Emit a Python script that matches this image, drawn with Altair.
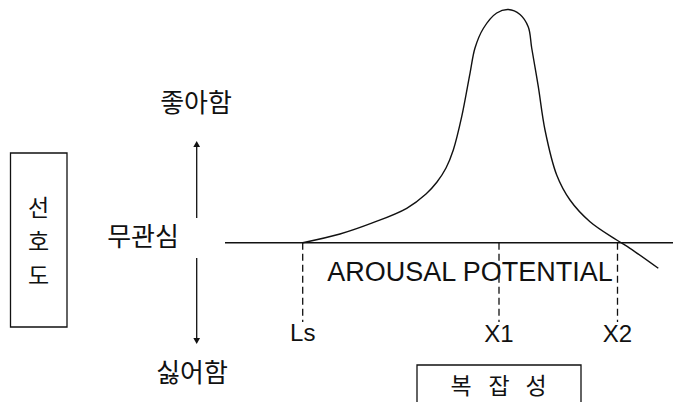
import altair as alt
import pandas as pd

# ---- data (reference pixel space: x right, y down) ----
curve_x = [302.7, 340, 373, 406.7, 426, 437, 446, 453.3, 461.7, 470, 475, 483.3, 496.7,
           508.3, 520, 528.3, 531.7, 538.3, 545, 556.7, 570, 590, 616.7, 630, 658.3]
curve_y = [242.7, 234, 222.7, 208.3, 194, 182, 168, 150, 116.7, 73.3, 48, 28.5, 13,
           9.5, 14.5, 27, 48, 86.7, 130, 175, 200, 221.7, 240, 248.3, 268.3]

base_x = [225, 680]
base_y = [242.7, 242.7]

mark_names = ["Ls", "X1", "X2"]
mark_x = [302.7, 499, 617.5]
mark_top = [242.7, 242.7, 242.7]
mark_bottom = [322, 322, 322]
mark_label_y = [334, 335, 335]

axis_x = [196.7, 196.7]
axis_seg_top = [145, 258]
axis_seg_bottom = [218, 340]
arrow_y = [144, 341]
arrow_shape = ["triangle-up", "triangle-down"]

pref_words = ["좋아함", "무관심", "싫어함"]
pref_x = [196, 143, 192]
pref_y = [104, 237.5, 374]

side_chars = ["선", "호", "도"]
side_x = [38.5, 38.5, 38.5]
side_y = [209, 243, 277]
side_box = [10.5, 67, 153, 327]  # x1, x2, y1, y2

cx_chars = ["복", "잡", "성"]
cx_x = [461, 499, 536]
cx_y = [386.5, 386.5, 386.5]
cx_box = [417, 581, 365, 402]

arousal_text = ["AROUSAL POTENTIAL"]
arousal_x = [470]
arousal_y = [272.5]

INK = "#111111"
W, H = 665, 394
xs = alt.Scale(domain=[8, 8 + W], nice=False, zero=False)
ys = alt.Scale(domain=[8, 8 + H], nice=False, zero=False, reverse=True)
X = lambda f: alt.X(f, type="quantitative", scale=xs, axis=None)
Y = lambda f: alt.Y(f, type="quantitative", scale=ys, axis=None)

curve_df = pd.DataFrame({"x": curve_x, "y": curve_y, "o": range(len(curve_x))})
curve = alt.Chart(curve_df).mark_line(color=INK, strokeWidth=1.4, interpolate="catmull-rom").encode(
    x=X("x"), y=Y("y"), order="o:Q")

base_df = pd.DataFrame({"x": base_x, "y": base_y})
base = alt.Chart(base_df).mark_line(color=INK, strokeWidth=1.5).encode(x=X("x"), y=Y("y"))

m_df = pd.DataFrame({"name": mark_names, "x": mark_x, "y1": mark_top, "y2": mark_bottom,
                     "ly": mark_label_y})
dashes = alt.Chart(m_df).mark_rule(color=INK, strokeWidth=1.3, strokeDash=[7, 4]).encode(
    x=X("x"), y=Y("y1"), y2="y2")
mlabels = alt.Chart(m_df).mark_text(font="Liberation Sans", fontSize=24, color=INK,
                                    baseline="middle", align="center").encode(
    x=X("x"), y=Y("ly"), text="name")

ax_df = pd.DataFrame({"x": axis_x, "y1": axis_seg_top, "y2": axis_seg_bottom})
ax_lines = alt.Chart(ax_df).mark_rule(color=INK, strokeWidth=1.3).encode(
    x=X("x"), y=Y("y1"), y2="y2")
arr_df = pd.DataFrame({"x": axis_x, "y": arrow_y, "shape": arrow_shape})
arrows = alt.Chart(arr_df).mark_point(filled=True, color=INK, size=45, opacity=1).encode(
    x=X("x"), y=Y("y"), shape=alt.Shape("shape:N", scale=None, legend=None))

p_df = pd.DataFrame({"t": pref_words, "x": pref_x, "y": pref_y})
pref = alt.Chart(p_df).mark_text(font="Noto Sans CJK KR", fontSize=26, color=INK,
                                 baseline="middle", align="center").encode(
    x=X("x"), y=Y("y"), text="t")

s_df = pd.DataFrame({"t": side_chars, "x": side_x, "y": side_y})
side = alt.Chart(s_df).mark_text(font="Noto Sans CJK KR", fontSize=23, color=INK,
                                 baseline="middle", align="center").encode(
    x=X("x"), y=Y("y"), text="t")
sb_df = pd.DataFrame({"x": [side_box[0]], "x2": [side_box[1]], "y": [side_box[2]], "y2": [side_box[3]]})
side_rect = alt.Chart(sb_df).mark_rect(fill="white", fillOpacity=0, stroke=INK, strokeWidth=1.3).encode(
    x=X("x"), x2="x2", y=Y("y"), y2="y2")

c_df = pd.DataFrame({"t": cx_chars, "x": cx_x, "y": cx_y})
cx = alt.Chart(c_df).mark_text(font="Noto Sans CJK KR", fontSize=23, color=INK,
                               baseline="middle", align="center").encode(
    x=X("x"), y=Y("y"), text="t")
cb_df = pd.DataFrame({"x": [cx_box[0]], "x2": [cx_box[1]], "y": [cx_box[2]], "y2": [cx_box[3] + 20]})
cx_rect = alt.Chart(cb_df).mark_rect(fill="white", fillOpacity=0, stroke=INK, strokeWidth=1.3,
                                     clip=True).encode(
    x=X("x"), x2="x2", y=Y("y"), y2="y2")

a_df = pd.DataFrame({"t": arousal_text, "x": arousal_x, "y": arousal_y})
arousal = alt.Chart(a_df).mark_text(font="Liberation Sans", fontSize=27, color=INK,
                                    baseline="middle", align="center").encode(
    x=X("x"), y=Y("y"), text="t")

chart = alt.layer(base, curve, dashes, mlabels, ax_lines, arrows, pref, side_rect, side,
                  cx_rect, cx, arousal).properties(
    width=W, height=H, padding=0, background="white",
    autosize=alt.AutoSizeParams(type="none"),
).configure_view(stroke=None)

chart.save("out.html", embed_options={"renderer": "svg", "actions": False})
